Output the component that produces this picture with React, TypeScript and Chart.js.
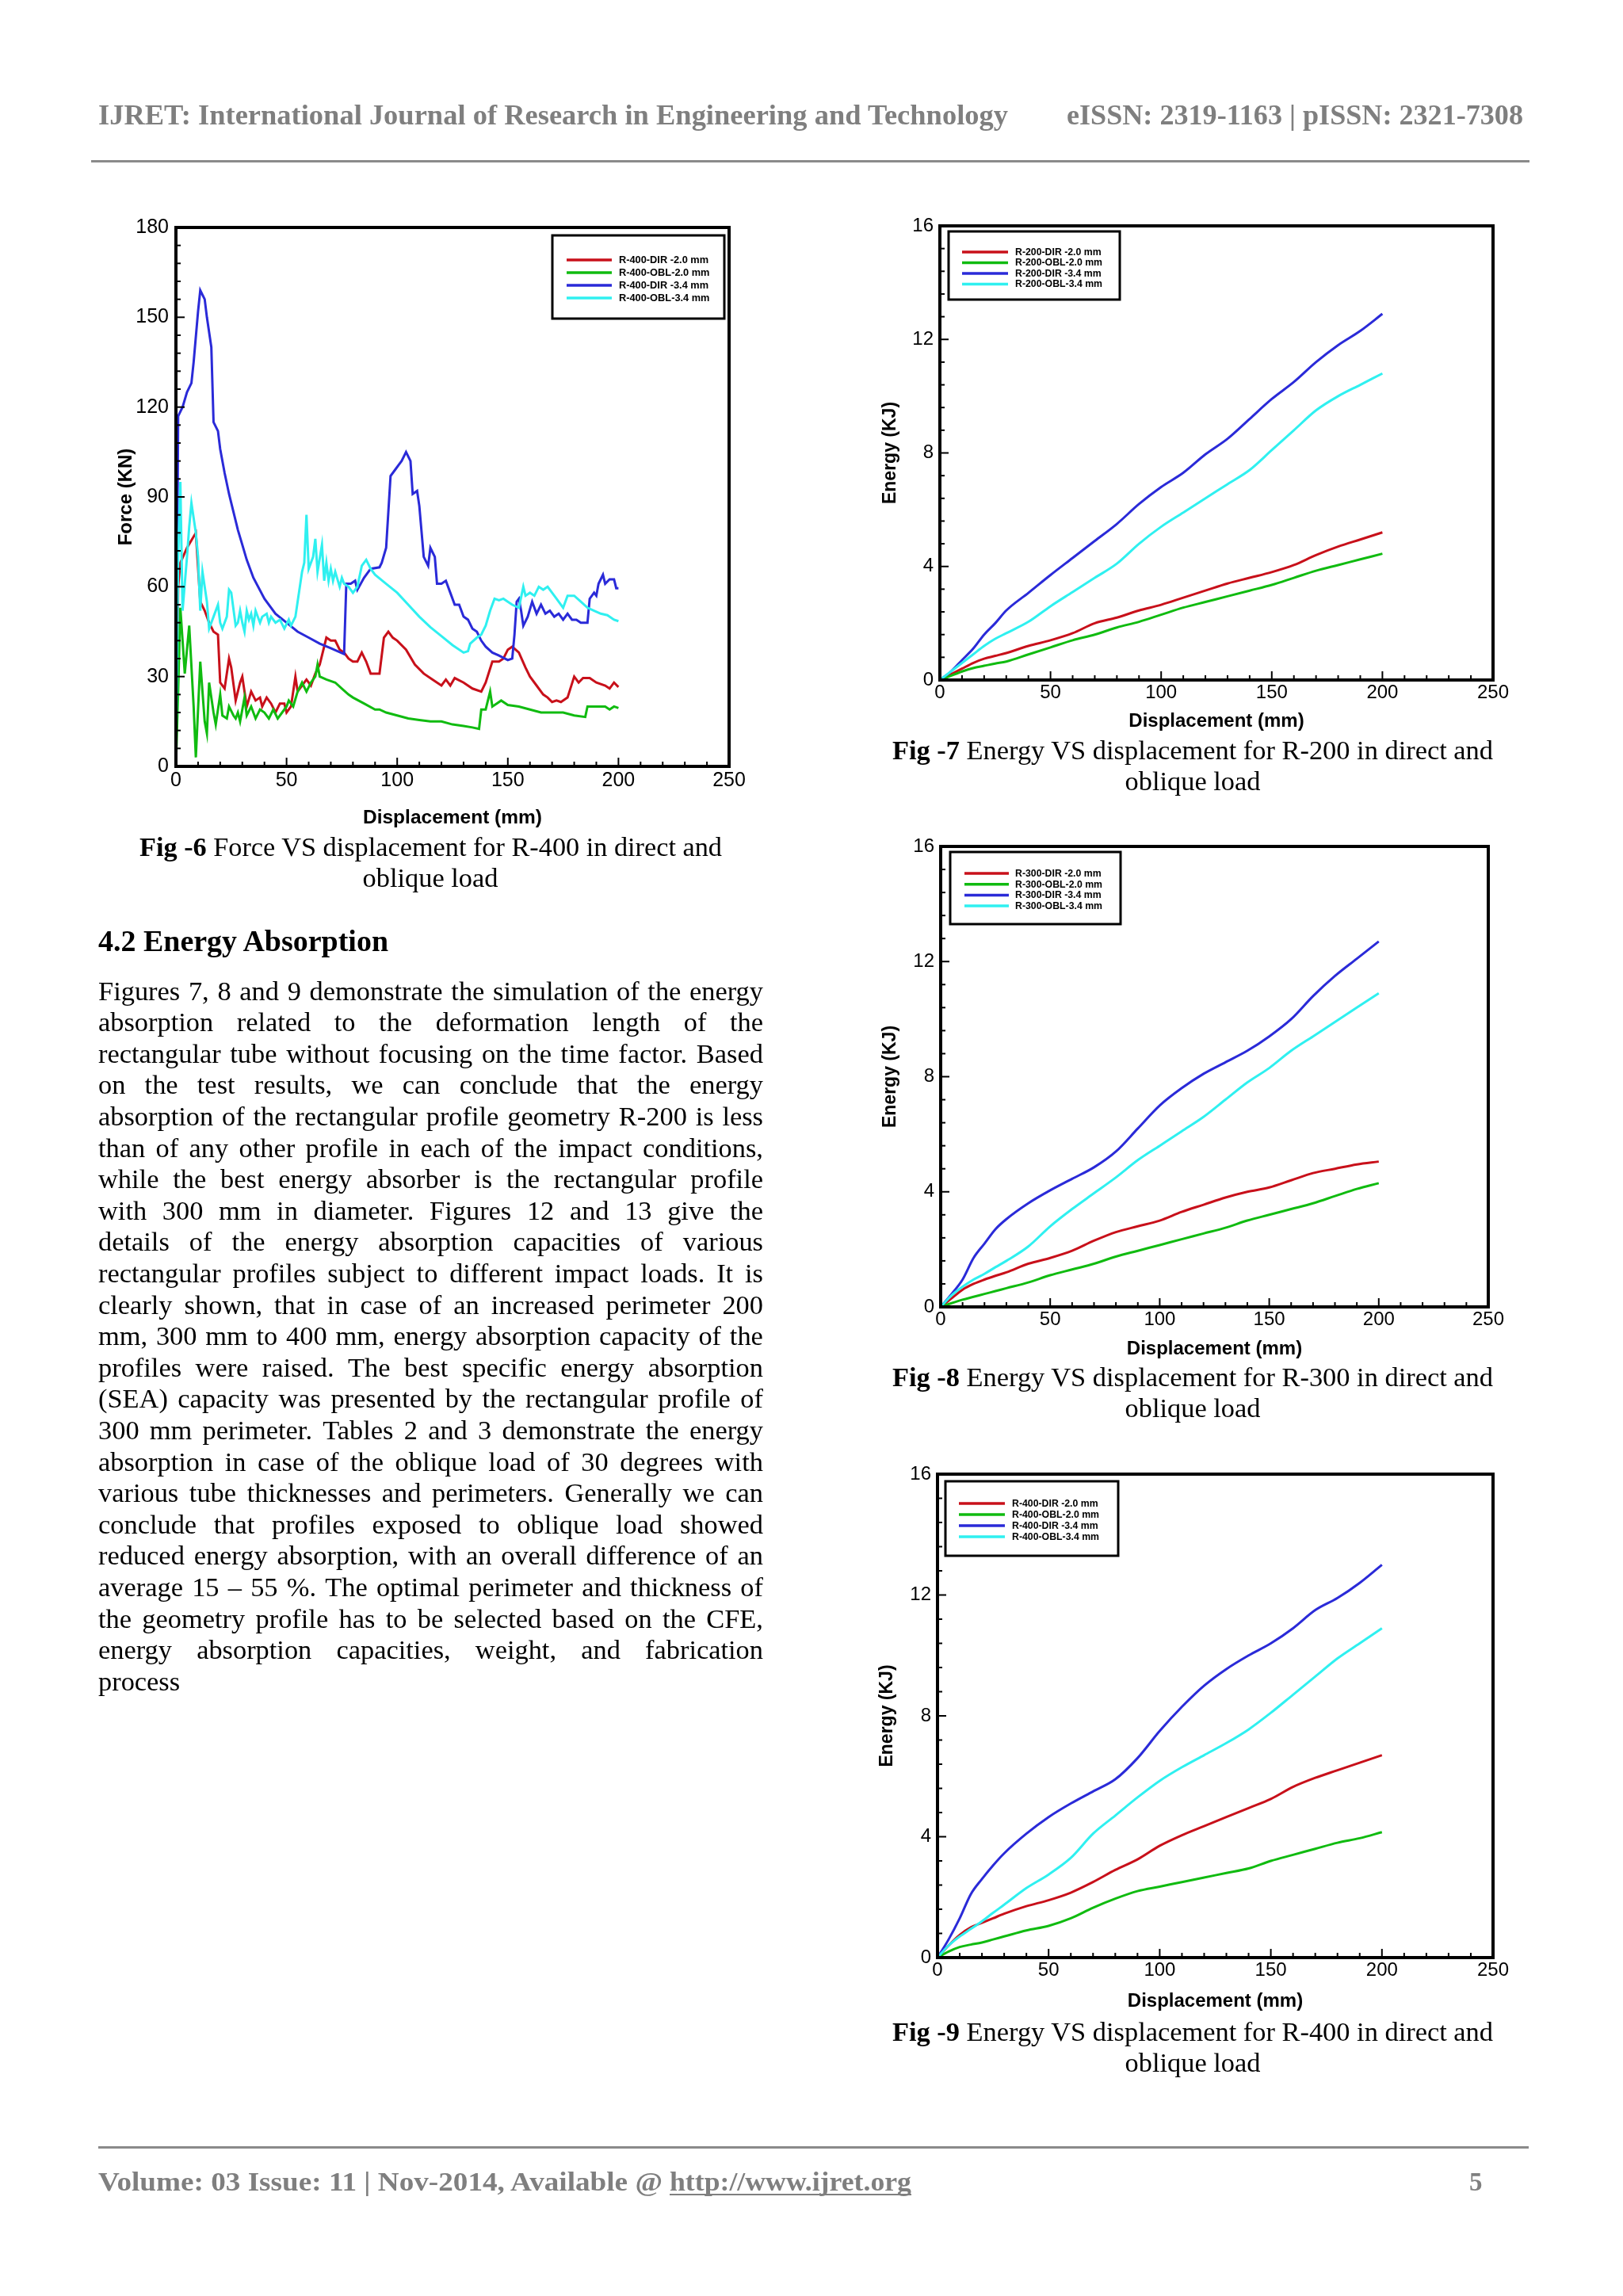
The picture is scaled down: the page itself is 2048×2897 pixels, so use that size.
import React, { useEffect, useRef } from "react";
import { Chart, registerables } from "chart.js";

Chart.register(...registerables);

// ---------------- DATA ----------------
const COLORS = ["#c8101a", "#10bb10", "#2a2ad8", "#2ff0f0"];

const LABELS_R200 = ["R-200-DIR -2.0 mm", "R-200-OBL-2.0 mm", "R-200-DIR -3.4 mm", "R-200-OBL-3.4 mm"];
const LABELS_R300 = ["R-300-DIR -2.0 mm", "R-300-OBL-2.0 mm", "R-300-DIR -3.4 mm", "R-300-OBL-3.4 mm"];
const LABELS_R400 = ["R-400-DIR -2.0 mm", "R-400-OBL-2.0 mm", "R-400-DIR -3.4 mm", "R-400-OBL-3.4 mm"];

// Fig 6 : Force vs displacement (R-400)
const F6_DIR20_X = [0,1,2,5,9,11,13,15,17,19,20,22,24,25,27,29,30,32,34,36,38,39,41,43,45,47,49,50,52,54,55,57,59,61,63,65,66,68,70,72,74,76,78,80,82,84,86,88,90,92,94,96,98,100,104,108,112,116,120,122,124,126,130,134,138,140,143,146,148,150,152,155,158,160,163,166,168,170,172,174,177,180,182,184,187,190,194,196,198,200];
const F6_DIR20_Y = [0,60,68,73,78,55,52,48,45,44,28,26,36,33,22,28,30,20,25,22,23,20,23,21,18,21,21,18,20,30,25,27,29,27,31,34,37,43,42,42,39,38,36,35,35,38,35,31,31,31,43,45,43,42,39,34,31,29,27,29,27,29.5,28,26,25,28,35,35,36,39,40,38,33,30,27,24,23,21.5,22,21.5,23,30,28,29.5,29.5,28,27,26,28,26.5];

const F6_OBL20_X = [0,1,2,4,6,8,9,11,13,14,15,17,18,20,21,23,24,26,27,28,29,31,32,34,36,38,40,42,44,46,48,50,51,53,55,57,59,61,63,64,65,68,72,75,78,80,85,90,92,95,100,105,110,115,120,125,130,134,137,138,140,142,143,145,147,150,155,160,165,170,175,180,185,186,190,194,196,198,200];
const F6_OBL20_Y = [0,25,53,31,47,20,3,35,15,11,28,18,14,24,17,16,20,17,16,18,15,23,17,20,16,19,18,16,19,16,18,20,22,20,25,28,25,28,30,34,30,29,28,26,24,23,21,19,19,18,17,16,15.5,15,15,14,13.5,13,12.5,19,19,25,20,21,22,20.5,20,19,18,18,18,17,16.5,20,20,20,19,20,19.5];

const F6_DIR34_X = [0,1,3,5,7,8,10,11,13,14,16,17,19,20,22,24,26,28,30,32,35,40,45,50,55,60,65,70,76,77,79,81,82,85,88,92,93,95,97,99,101,102,104,106,107,109,110,112,114,115,117,118,120,122,124,126,128,130,132,134,136,138,140,143,146,150,152,153,154,155,156,157,159,161,163,165,167,169,171,173,175,177,179,181,183,186,187,189,190,191,193,194,196,198,199,200];
const F6_DIR34_Y = [0,117,120,125,128,135,152,159,156,150,140,115,112,106,98,91,85,79,74,69,63,56,51,48,45,43,41,39.5,37.5,61,61,62,59,63,66,66.5,68,73,97,99,101,102,105,102,91,92,87,70,67,73,70,61,61,62,58,54,54,50,49,46,45,42,40,38,37,35.5,36,44,55,56,52,47,50,55,51,54,51,52,50,51,49,51,49,49,48,48,56,58,57,61,64,61,62.5,62.5,59.5,59.5];

const F6_OBL34_X = [0,1,2,3,5,6,7,9,10,11,12,14,15,17,19,20,21,23,24,25,27,28,29,30,31,32,33,34,35,36,38,39,41,42,43,45,47,49,51,52,54,55,57,58,59,60,62,63,64,66,67,68,69,70,71,72,74,75,76,78,80,82,84,86,88,90,95,100,105,110,115,120,125,130,132,133,136,138,140,142,144,146,148,150,152,155,157,158,160,162,164,166,168,170,172,175,177,180,183,186,189,192,195,198,200];
const F6_OBL34_Y = [0,70,95,52,70,80,88,78,70,52,65,55,46,50,54,48,46,50,59,58,47,48,52,48,45,52,49,51,47,52,48,50,51,48,50,48,49,46,49,47,50,55,65,68,84,66,70,76,65,74,62,68,62,66,62,65,60,63,61,60,58,60,67,69,66,64,61,58,54,50,46.5,43.5,40.5,38,38.5,41,43,44,47,52,56,55.5,56,55,54,53,60,57,58,57,60,59,60,58,56,53,57,57,55,53,52,51,50.5,49,48.5];

// Energy vs displacement (Figs 7, 8, 9)
const E_X = [0,5,10,15,20,25,30,40,50,60,70,80,90,100,110,120,130,140,150,160,170,180,190,200];

const F7_DIR20 = [0,0.2,0.4,0.6,0.75,0.85,0.95,1.2,1.4,1.65,2.0,2.2,2.45,2.65,2.9,3.15,3.4,3.6,3.8,4.05,4.4,4.7,4.95,5.2];
const F7_OBL20 = [0,0.15,0.3,0.42,0.5,0.58,0.65,0.9,1.15,1.4,1.6,1.85,2.05,2.3,2.55,2.75,2.95,3.15,3.35,3.6,3.85,4.05,4.25,4.45];
const F7_DIR34 = [0,0.3,0.7,1.1,1.6,2.0,2.45,3.07,3.7,4.3,4.9,5.5,6.2,6.8,7.3,7.95,8.5,9.2,9.9,10.5,11.2,11.8,12.3,12.9];
const F7_OBL34 = [0,0.3,0.6,0.9,1.2,1.45,1.65,2.05,2.6,3.1,3.6,4.1,4.8,5.4,5.9,6.4,6.9,7.4,8.1,8.8,9.5,10.0,10.4,10.8];

const F8_DIR20 = [0,0.3,0.6,0.8,0.95,1.08,1.2,1.5,1.7,1.95,2.3,2.6,2.8,3.0,3.3,3.55,3.8,4.0,4.15,4.4,4.65,4.8,4.95,5.05];
const F8_OBL20 = [0,0.13,0.25,0.35,0.45,0.55,0.65,0.85,1.1,1.3,1.5,1.75,1.95,2.15,2.35,2.55,2.75,3.0,3.2,3.4,3.6,3.85,4.1,4.3];
const F8_DIR34 = [0,0.45,0.95,1.7,2.2,2.7,3.05,3.6,4.05,4.45,4.85,5.4,6.2,7.0,7.6,8.1,8.5,8.9,9.4,10.0,10.8,11.5,12.1,12.7];
const F8_OBL34 = [0,0.4,0.7,0.95,1.15,1.38,1.6,2.1,2.8,3.4,3.95,4.5,5.1,5.6,6.1,6.6,7.2,7.8,8.3,8.9,9.4,9.9,10.4,10.9];

const F9_DIR20 = [0,0.4,0.75,1.0,1.15,1.3,1.45,1.7,1.9,2.15,2.5,2.9,3.25,3.7,4.05,4.35,4.65,4.95,5.25,5.65,5.95,6.2,6.45,6.7];
const F9_OBL20 = [0,0.2,0.35,0.43,0.5,0.6,0.7,0.9,1.05,1.3,1.65,1.95,2.2,2.35,2.5,2.65,2.8,2.95,3.2,3.4,3.6,3.8,3.95,4.15];
const F9_DIR34 = [0,0.6,1.3,2.1,2.6,3.05,3.45,4.1,4.65,5.1,5.5,5.9,6.6,7.5,8.3,9.0,9.55,10.0,10.4,10.9,11.5,11.9,12.4,13.0];
const F9_OBL34 = [0,0.4,0.7,0.95,1.2,1.48,1.75,2.3,2.75,3.3,4.1,4.7,5.3,5.85,6.3,6.7,7.1,7.55,8.1,8.7,9.3,9.9,10.4,10.9];

const PARAGRAPH_LINES = [
  "Figures 7, 8 and 9 demonstrate the simulation of the energy",
  "absorption related to the deformation length of the",
  "rectangular tube without focusing on the time factor. Based",
  "on the test results, we can conclude that the energy",
  "absorption of the rectangular profile geometry R-200 is less",
  "than of any other profile in each of the impact conditions,",
  "while the best energy absorber is the rectangular profile",
  "with 300 mm in diameter. Figures 12 and 13 give the",
  "details of the energy absorption capacities of various",
  "rectangular profiles subject to different impact loads. It is",
  "clearly shown, that in case of an increased perimeter 200",
  "mm, 300 mm to 400 mm, energy absorption capacity of the",
  "profiles were raised. The best specific energy absorption",
  "(SEA) capacity was presented by the rectangular profile of",
  "300 mm perimeter. Tables 2 and 3 demonstrate the energy",
  "absorption in case of the oblique load of 30 degrees with",
  "various tube thicknesses and perimeters. Generally we can",
  "conclude that profiles exposed to oblique load showed",
  "reduced energy absorption, with an overall difference of an",
  "average 15 \u2013 55 %. The optimal perimeter and thickness of",
  "the geometry profile has to be selected based on the CFE,",
  "energy absorption capacities, weight, and fabrication",
  "process",
];

// ---------------- STYLE ----------------
const SERIF = "'Liberation Serif', 'Times New Roman', serif";
const SANS = "'Liberation Sans', Arial, sans-serif";

type Series = { label: string; x: number[]; y: number[]; color: string };

type LegendSpec = { bx: number; by: number; bw: number; bh: number; lx: number; llen: number; tx: number; ry: number; rstep: number; font: string };

type Spec = {
  L: number; T: number; R: number; B: number;
  Wy: number; Hx: number; padTop: number; padRight: number;
  yMax: number; yStep: number; yMinor: number;
  xTitle: string; yTitle: string;
  tickFont: any; xTitleFont: any; yTitleFont: any;
  xTickPad: number; yTickPad: number;
  smooth: boolean;
  series: Series[];
  legend: LegendSpec;
};

const framePlugin = {
  id: "frameTicksLegend",
  afterDatasetsDraw(chart: any, _args: any, opts: any) {
    const { ctx, chartArea: a, scales } = chart;
    const xs = scales.x;
    const ys = scales.y;
    ctx.save();
    ctx.strokeStyle = "#000";
    ctx.lineWidth = 2;
    const nx = Math.round((xs.max - xs.min) / opts.xMinor);
    for (let i = 0; i <= nx; i++) {
      const v = xs.min + i * opts.xMinor;
      const major = Math.abs(v / opts.xMajor - Math.round(v / opts.xMajor)) < 1e-6;
      const p = xs.getPixelForValue(v);
      ctx.beginPath();
      ctx.moveTo(p, a.bottom);
      ctx.lineTo(p, a.bottom - (major ? 11 : 6));
      ctx.stroke();
    }
    const ny = Math.round((ys.max - ys.min) / opts.yMinor);
    for (let i = 0; i <= ny; i++) {
      const v = ys.min + i * opts.yMinor;
      const major = Math.abs(v / opts.yMajor - Math.round(v / opts.yMajor)) < 1e-6;
      const p = ys.getPixelForValue(v);
      ctx.beginPath();
      ctx.moveTo(a.left, p);
      ctx.lineTo(a.left + (major ? 11 : 6), p);
      ctx.stroke();
    }
    ctx.lineWidth = 4;
    ctx.strokeRect(a.left, a.top, a.right - a.left, a.bottom - a.top);
    const lg: LegendSpec = opts.legend;
    ctx.lineWidth = 3;
    ctx.fillStyle = "#fff";
    ctx.fillRect(a.left + lg.bx, a.top + lg.by, lg.bw, lg.bh);
    ctx.strokeRect(a.left + lg.bx, a.top + lg.by, lg.bw, lg.bh);
    ctx.font = lg.font;
    ctx.textBaseline = "middle";
    ctx.textAlign = "left";
    chart.data.datasets.forEach((ds: any, i: number) => {
      const y = a.top + lg.ry + i * lg.rstep;
      ctx.strokeStyle = ds.borderColor;
      ctx.lineWidth = 3.5;
      ctx.beginPath();
      ctx.moveTo(a.left + lg.lx, y);
      ctx.lineTo(a.left + lg.lx + lg.llen, y);
      ctx.stroke();
      ctx.fillStyle = "#000";
      ctx.fillText(ds.label, a.left + lg.tx, y + 0.5);
    });
    ctx.restore();
  },
};

function PlotCanvas({ spec }: { spec: Spec }) {
  const ref = useRef<HTMLCanvasElement>(null);
  const left = spec.L - spec.Wy;
  const top = spec.T - spec.padTop;
  const width = spec.Wy + (spec.R - spec.L) + spec.padRight;
  const height = spec.padTop + (spec.B - spec.T) + spec.Hx;

  useEffect(() => {
    if (!ref.current) return;
    const n = spec.series.length;
    const chart = new Chart(ref.current, {
      type: "line",
      data: {
        datasets: spec.series.map((s, i) => ({
          label: s.label,
          data: s.x.map((xv, j) => ({ x: xv, y: s.y[j] })),
          borderColor: s.color,
          backgroundColor: s.color,
          borderWidth: 3,
          pointRadius: 0,
          fill: false,
          order: n - i,
          tension: 0,
          cubicInterpolationMode: spec.smooth ? "monotone" : "default",
        })),
      },
      options: {
        responsive: false,
        animation: false,
        devicePixelRatio: 1,
        layout: { padding: { left: 0, top: spec.padTop, right: spec.padRight, bottom: 0 } },
        plugins: {
          legend: { display: false },
          tooltip: { enabled: false },
          frameTicksLegend: {
            xMinor: 10, xMajor: 50, yMinor: spec.yMinor, yMajor: spec.yStep,
            legend: spec.legend,
          },
        } as any,
        scales: {
          x: {
            type: "linear",
            min: 0,
            max: 250,
            ticks: { stepSize: 50, font: spec.tickFont, color: "#000", padding: spec.xTickPad, maxRotation: 0, autoSkip: false },
            grid: { display: false, drawTicks: false },
            border: { display: false },
            title: { display: true, text: spec.xTitle, font: spec.xTitleFont, color: "#000", padding: 0 },
            afterFit: (s: any) => { s.height = spec.Hx; },
          },
          y: {
            type: "linear",
            min: 0,
            max: spec.yMax,
            ticks: { stepSize: spec.yStep, font: spec.tickFont, color: "#000", padding: spec.yTickPad, autoSkip: false },
            grid: { display: false, drawTicks: false },
            border: { display: false },
            title: { display: true, text: spec.yTitle, font: spec.yTitleFont, color: "#000", padding: 0 },
            afterFit: (s: any) => { s.width = spec.Wy; },
          },
        } as any,
      },
      plugins: [framePlugin],
    } as any);
    return () => chart.destroy();
  }, []);

  return (
    <canvas
      ref={ref}
      width={width}
      height={height}
      style={{ position: "absolute", left, top, width, height }}
    />
  );
}

const mkSeries = (labels: string[], xs: number[][], ys: number[][]): Series[] =>
  labels.map((label, i) => ({ label, x: xs[i], y: ys[i], color: COLORS[i] }));

const energyTick = { family: SANS, size: 24, lineHeight: 1 };
const energyXTitle = { family: SANS, size: 24, weight: "bold", lineHeight: 1.2 };
const energyYTitle = { family: SANS, size: 23, weight: "bold", lineHeight: 1.2 };
const legendFont = `bold 12.3px ${SANS}`;

const SPEC6: Spec = {
  L: 222, T: 287, R: 920, B: 967, Wy: 77, Hx: 80, padTop: 24, padRight: 34,
  yMax: 180, yStep: 30, yMinor: 6,
  xTitle: "Displacement (mm)", yTitle: "Force (KN)",
  tickFont: { family: SANS, size: 25, lineHeight: 1 },
  xTitleFont: { family: SANS, size: 24.5, weight: "bold", lineHeight: 1.2 },
  yTitleFont: { family: SANS, size: 24, weight: "bold", lineHeight: 1.2 },
  xTickPad: 6, yTickPad: 9, smooth: false,
  series: mkSeries(LABELS_R400, [F6_DIR20_X, F6_OBL20_X, F6_DIR34_X, F6_OBL34_X], [F6_DIR20_Y, F6_OBL20_Y, F6_DIR34_Y, F6_OBL34_Y]),
  legend: { bx: 475, by: 10, bw: 217, bh: 105, lx: 493, llen: 57, tx: 559, ry: 41, rstep: 16, font: `bold 12.8px ${SANS}` },
};

const SPEC7: Spec = {
  L: 1186, T: 285, R: 1884, B: 858, Wy: 76, Hx: 67, padTop: 22, padRight: 34,
  yMax: 16, yStep: 4, yMinor: 0.8,
  xTitle: "Displacement (mm)", yTitle: "Energy (KJ)",
  tickFont: energyTick, xTitleFont: energyXTitle, yTitleFont: energyYTitle,
  xTickPad: 4, yTickPad: 8, smooth: true,
  series: mkSeries(LABELS_R200, [E_X, E_X, E_X, E_X], [F7_DIR20, F7_OBL20, F7_DIR34, F7_OBL34]),
  legend: { bx: 11, by: 7, bw: 216, bh: 86, lx: 28, llen: 58, tx: 95, ry: 33, rstep: 13.5, font: legendFont },
};

const SPEC8: Spec = {
  L: 1187, T: 1068, R: 1878, B: 1649, Wy: 77, Hx: 68, padTop: 22, padRight: 34,
  yMax: 16, yStep: 4, yMinor: 0.8,
  xTitle: "Displacement (mm)", yTitle: "Energy (KJ)",
  tickFont: energyTick, xTitleFont: energyXTitle, yTitleFont: energyYTitle,
  xTickPad: 4, yTickPad: 8, smooth: true,
  series: mkSeries(LABELS_R300, [E_X, E_X, E_X, E_X], [F8_DIR20, F8_OBL20, F8_DIR34, F8_OBL34]),
  legend: { bx: 12, by: 7, bw: 215, bh: 91, lx: 30, llen: 56, tx: 94, ry: 34, rstep: 13.7, font: legendFont },
};

const SPEC9: Spec = {
  L: 1183, T: 1860, R: 1884, B: 2470, Wy: 77, Hx: 70, padTop: 22, padRight: 34,
  yMax: 16, yStep: 4, yMinor: 0.8,
  xTitle: "Displacement (mm)", yTitle: "Energy (KJ)",
  tickFont: energyTick, xTitleFont: energyXTitle, yTitleFont: energyYTitle,
  xTickPad: 4, yTickPad: 8, smooth: true,
  series: mkSeries(LABELS_R400, [E_X, E_X, E_X, E_X], [F9_DIR20, F9_OBL20, F9_DIR34, F9_OBL34]),
  legend: { bx: 10, by: 9, bw: 218, bh: 94, lx: 27, llen: 58, tx: 94, ry: 37, rstep: 14, font: legendFont },
};

function Caption({ num, rest, x1, w1, y1, cx, y2 }: { num: string; rest: string; x1: number; w1: number; y1: number; cx: number; y2: number }) {
  return (
    <g fontFamily={SERIF} fontSize={34.4} fill="#000">
      <text x={x1} y={y1} textLength={w1} lengthAdjust="spacingAndGlyphs">
        <tspan fontWeight="bold">{num}</tspan>
        {" " + rest}
      </text>
      <text x={cx} y={y2} textAnchor="middle">oblique load</text>
    </g>
  );
}

export default function App() {
  const GRAY = "#7f7f7f";
  return (
    <div style={{ position: "absolute", left: 0, top: 0, width: 2048, height: 2897, background: "#fff", overflow: "hidden" }}>
      <PlotCanvas spec={SPEC6} />
      <PlotCanvas spec={SPEC7} />
      <PlotCanvas spec={SPEC8} />
      <PlotCanvas spec={SPEC9} />

      <svg width={2048} height={2897} style={{ position: "absolute", left: 0, top: 0, pointerEvents: "none" }}>
        <text x={124} y={157} fontFamily={SERIF} fontWeight="bold" fontSize={35} fill={GRAY} textLength={1148} lengthAdjust="spacingAndGlyphs">
          IJRET: International Journal of Research in Engineering and Technology
        </text>
        <text x={1346} y={157} fontFamily={SERIF} fontWeight="bold" fontSize={35} fill={GRAY} textLength={576} lengthAdjust="spacingAndGlyphs">
          eISSN: 2319-1163 | pISSN: 2321-7308
        </text>
        <rect x={115} y={202} width={1815} height={3} fill="#8a8a8a" />

        <text x={124} y={1200} fontFamily={SERIF} fontWeight="bold" fontSize={37} fill="#000" textLength={366} lengthAdjust="spacingAndGlyphs">
          4.2 Energy Absorption
        </text>

        <Caption num="Fig -6" rest="Force VS displacement for R-400 in direct and" x1={176} w1={735} y1={1080} cx={543} y2={1119} />
        <Caption num="Fig -7" rest="Energy VS displacement for R-200 in direct and" x1={1126} w1={758} y1={958} cx={1505} y2={997} />
        <Caption num="Fig -8" rest="Energy VS displacement for R-300 in direct and" x1={1126} w1={758} y1={1749} cx={1505} y2={1788} />
        <Caption num="Fig -9" rest="Energy VS displacement for R-400 in direct and" x1={1126} w1={758} y1={2575} cx={1505} y2={2614} />

        <rect x={124} y={2708} width={1805} height={3} fill="#8a8a8a" />
        <text x={124} y={2764} fontFamily={SERIF} fontWeight="bold" fontSize={33} fill={GRAY} textLength={712} lengthAdjust="spacingAndGlyphs">
          Volume: 03 Issue: 11 | Nov-2014, Available @
        </text>
        <text x={845} y={2764} fontFamily={SERIF} fontWeight="bold" fontSize={33} fill={GRAY} textLength={305} lengthAdjust="spacingAndGlyphs">
          http://www.ijret.org
        </text>
        <rect x={845} y={2768} width={305} height={2} fill={GRAY} />
        <text x={1854} y={2764} fontFamily={SERIF} fontWeight="bold" fontSize={33} fill={GRAY}>5</text>
      </svg>

      {PARAGRAPH_LINES.map((line, i) => {
        const last = i === PARAGRAPH_LINES.length - 1;
        const words = line.split(" ");
        return (
          <div
            key={i}
            style={{
              position: "absolute",
              left: 124,
              top: 1230.6 + 39.6 * i,
              width: 839,
              height: 39.6,
              display: "flex",
              justifyContent: last ? "flex-start" : "space-between",
              fontFamily: SERIF,
              fontSize: 34.4,
              lineHeight: "39.6px",
              color: "#000",
              whiteSpace: "pre",
            }}
          >
            {words.map((w, j) => (
              <span key={j}>{w}</span>
            ))}
          </div>
        );
      })}
    </div>
  );
}
